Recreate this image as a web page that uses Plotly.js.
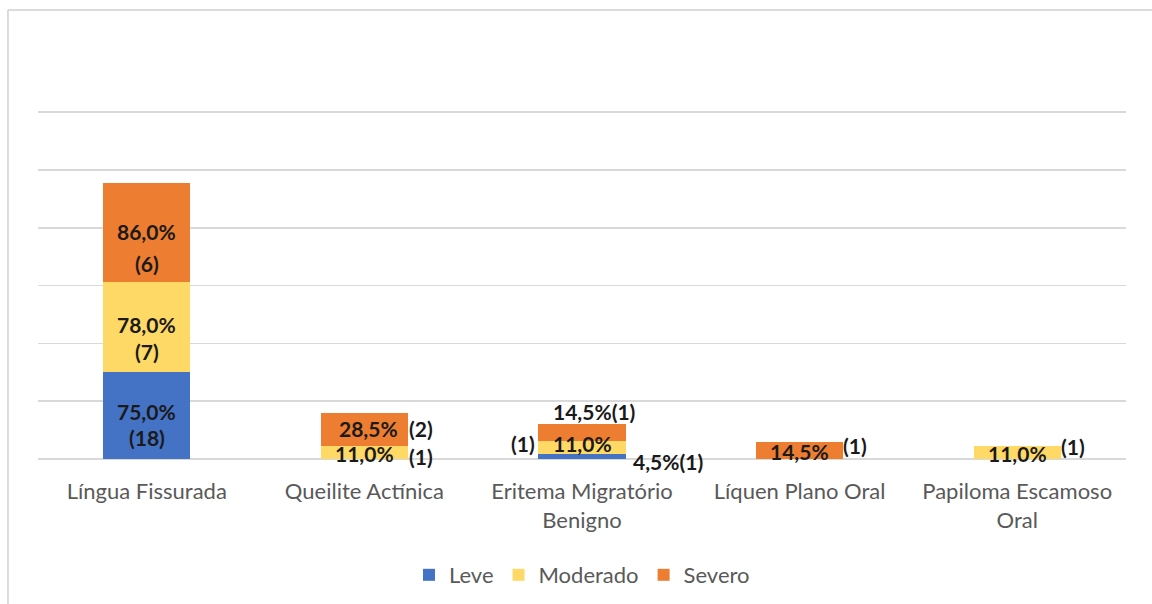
<!DOCTYPE html>
<html>
<head>
<meta charset="utf-8">
<script src="https://cdn.plot.ly/plotly-3.0.1.min.js"></script>
<style>html,body{margin:0;padding:0;background:#fff}</style>
</head>
<body>
<div id="chart" style="width:1152px;height:604px"></div>
<script>
// ---- data ----
var categories = ['Língua Fissurada', 'Queilite Actínica', 'Eritema Migratório<br>Benigno', 'Líquen Plano Oral', 'Papiloma Escamoso<br>Oral'];
var seriesNames = ['Leve', 'Moderado', 'Severo'];
var levePct     = [75.0, 0,    4.5,  0,    0];
var moderadoPct = [78.0, 11.0, 11.0, 0,    11.0];
var severoPct   = [86.0, 28.5, 14.5, 14.5, 0];
var leveN       = [18, 0, 1, 0, 0];
var moderadoN   = [7,  1, 1, 0, 1];
var severoN     = [6,  2, 1, 1, 0];

// ---- styles ----
var colors = ['#4472C4', '#FFD966', '#ED7D31'];
var labelFont = {family: 'Lato, "Open Sans", sans-serif', size: 21, color: '#1a1a1a', weight: 'bold'};

function fmt(v) { return v.toFixed(1).replace('.', ',') + '%'; }

var pcts = [levePct, moderadoPct, severoPct];
var counts = [leveN, moderadoN, severoN];

var traces = pcts.map(function (vals, s) {
  return {
    type: 'bar', name: seriesNames[s], x: categories, y: vals,
    marker: {color: colors[s], line: {width: 0}},
    hoverinfo: 'skip'
  };
});

// label placement (pixel offsets from segment centre), keyed "series-category"
var place = {
  '0-0': {p: [0, 4],  c: [0, -22]},
  '1-0': {p: [0, 3],  c: [0, -24]},
  '2-0': {p: [0, 1],  c: [0, -31]},
  '1-1': {p: [0, -1], c: [57, -4]},
  '2-1': {p: [4, 1],  c: [57, 1]},
  '0-2': {join: true, p: [86, -5]},
  '1-2': {p: [0, 4],  c: [-59, 4]},
  '2-2': {join: true, p: [12, 21]},
  '2-3': {p: [0, -1], c: [55, 5]},
  '1-4': {p: [0, -1], c: [56, 6]}
};

var annotations = [];
for (var c = 0; c < categories.length; c++) {
  var base = 0;
  for (var s = 0; s < 3; s++) {
    var v = pcts[s][c];
    if (v > 0) {
      var mid = base + v / 2;
      var pl = place[s + '-' + c] || {p: [0, 0], c: [0, -22]};
      if (pl.join) {
        annotations.push({x: categories[c], y: mid, xref: 'x', yref: 'y', text: fmt(v) + '(' + counts[s][c] + ')',
          showarrow: false, font: labelFont, xshift: pl.p[0], yshift: pl.p[1]});
      } else {
        annotations.push({x: categories[c], y: mid, xref: 'x', yref: 'y', text: fmt(v),
          showarrow: false, font: labelFont, xshift: pl.p[0], yshift: pl.p[1]});
        annotations.push({x: categories[c], y: mid, xref: 'x', yref: 'y', text: '(' + counts[s][c] + ')',
          showarrow: false, font: labelFont, xshift: pl.c[0], yshift: pl.c[1]});
      }
    }
    base += v;
  }
}

var layout = {
  width: 1152, height: 604,
  margin: {l: 38, r: 26, t: 111, b: 145, pad: 0},
  paper_bgcolor: '#ffffff', plot_bgcolor: '#ffffff',
  barmode: 'stack', bargap: 0.6,
  font: {family: 'Lato, "Open Sans", sans-serif', color: '#595959'},
  xaxis: {
    type: 'category', showgrid: false, zeroline: false, showline: false, ticks: '',
    tickfont: {size: 22, color: '#595959'}, ticklabelstandoff: 17, automargin: false
  },
  yaxis: {
    range: [0, 301], dtick: 50, showticklabels: false, showgrid: true,
    gridcolor: '#d9d9d9', gridwidth: 1.5, zeroline: true, zerolinecolor: '#d9d9d9', zerolinewidth: 1.5,
    fixedrange: true, automargin: false
  },
  legend: {
    orientation: 'h', x: 0.5, xanchor: 'center', xref: 'paper',
    y: 0.048, yanchor: 'middle', yref: 'container',
    font: {size: 22, color: '#595959'}, itemwidth: 30, traceorder: 'normal'
  },
  annotations: annotations,
  shapes: [
    {type: 'line', xref: 'paper', yref: 'paper', x0: -0.0276, x1: 1.1, y0: 1.29, y1: 1.29,
     line: {color: '#d0d0d0', width: 1.5}},
    {type: 'line', xref: 'paper', yref: 'paper', x0: -0.0276, x1: -0.0276, y0: 1.29, y1: -0.5,
     line: {color: '#d0d0d0', width: 1.5}}
  ],
  showlegend: true
};

Plotly.newPlot('chart', traces, layout, {displayModeBar: false, staticPlot: true});
</script>
</body>
</html>
